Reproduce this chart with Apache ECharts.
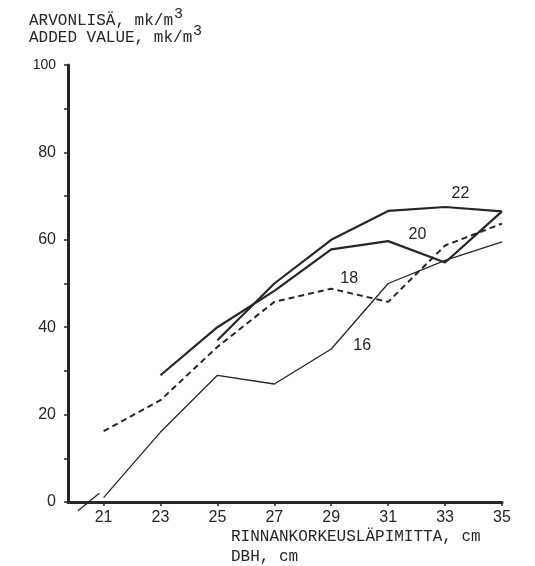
<!DOCTYPE html>
<html>
<head>
<meta charset="utf-8">
<script src="https://cdn.jsdelivr.net/npm/echarts@6/dist/echarts.min.js"></script>
<style>
  html, body { margin: 0; padding: 0; background: #fff; }
  #chart { width: 535px; height: 566px; }
</style>
</head>
<body>
<div id="chart"></div>
<script>
// Diameter classes (DBH, cm) on the horizontal axis
const dbh = [21, 23, 25, 27, 29, 31, 33, 35];

// Added value (mk/m3) by dominant height class
const value16 = [1, 16, 29, 27, 35, 50, 55.3, 59.5];
const value18 = [16.2, 23.3, 35.5, 45.8, 48.8, 45.8, 58.7, 63.7];
const value20 = [null, 29, 40, 48.3, 57.8, 59.7, 54.8, 66.5];
const value22 = [null, null, 37, 50, 60, 66.6, 67.5, 66.5];

// Short hand-drawn stroke extending class 16 below the axis
const lead16 = [[20.1, -2], [20.85, 2]];

// Axis ticks
const yTicks = [0, 20, 40, 60, 80, 100];
const xTicks = dbh;

const ink = '#262626';
const mono = '"Liberation Mono", "DejaVu Sans Mono", monospace';
const sans = '"Liberation Sans", Arial, sans-serif';

function pairs(xs, ys) {
  return xs.map((x, i) => [x, ys[i]]);
}

function curveLabel(text, coord) {
  return {
    silent: true,
    symbol: 'rect',
    symbolSize: 1,
    itemStyle: { color: 'transparent' },
    label: {
      show: true, position: 'inside', formatter: text,
      color: ink, fontFamily: sans, fontSize: 16
    },
    data: [{ coord: coord }]
  };
}

const chart = echarts.init(document.getElementById('chart'), null, { renderer: 'canvas' });

chart.setOption({
  backgroundColor: '#ffffff',
  animation: false,
  grid: { left: 68, right: 33, top: 65, bottom: 64, containLabel: false },
  xAxis: {
    type: 'value',
    min: 19.75,
    max: 35,
    splitLine: { show: false },
    axisLine: { show: true, onZero: false, lineStyle: { color: ink, width: 3 } },
    axisTick: { show: true, customValues: xTicks, length: 4, lineStyle: { color: ink, width: 1.5 } },
    axisLabel: {
      customValues: xTicks, margin: 8, color: ink,
      fontFamily: sans, fontSize: 16
    }
  },
  yAxis: {
    type: 'value',
    min: 0,
    max: 100,
    interval: 10,
    splitLine: { show: false },
    axisLine: { show: true, lineStyle: { color: ink, width: 3 } },
    axisTick: { show: true, length: 4, lineStyle: { color: ink, width: 1.5 } },
    axisLabel: {
      margin: 12, color: ink, fontFamily: sans, fontSize: 16,
      formatter: v => yTicks.includes(v) ? (v === 100 ? '{s|100}' : String(v)) : '',
      rich: { s: { fontFamily: sans, fontSize: 14, color: ink } }
    }
  },
  graphic: [
    { type: 'text', left: 29, top: 13, style: { text: 'ARVONLISÄ, mk/m', font: '16px ' + mono, fill: ink } },
    { type: 'text', left: 174, top: 7, style: { text: '3', font: '15px ' + mono, fill: ink } },
    { type: 'text', left: 29, top: 30, style: { text: 'ADDED VALUE, mk/m', font: '16px ' + mono, fill: ink } },
    { type: 'text', left: 193, top: 24, style: { text: '3', font: '15px ' + mono, fill: ink } },
    { type: 'text', left: 231, top: 529, style: { text: 'RINNANKORKEUSLÄPIMITTA, cm', font: '16px ' + mono, fill: ink } },
    { type: 'text', left: 231, top: 549, style: { text: 'DBH, cm', font: '16px ' + mono, fill: ink } }
  ],
  series: [
    {
      name: '16', type: 'line', data: pairs(dbh, value16),
      showSymbol: false, lineStyle: { color: ink, width: 1.3 },
      markPoint: curveLabel('16', [30.09, 35.8])
    },
    {
      name: '16 lead', type: 'line', data: lead16, clip: false,
      showSymbol: false, lineStyle: { color: ink, width: 1.3 }
    },
    {
      name: '18', type: 'line', data: pairs(dbh, value18),
      showSymbol: false, lineStyle: { color: ink, width: 2, type: [6, 4] },
      markPoint: curveLabel('18', [29.63, 51.2])
    },
    {
      name: '20', type: 'line', data: pairs(dbh, value20),
      showSymbol: false, connectNulls: false, lineStyle: { color: ink, width: 2.2 },
      markPoint: curveLabel('20', [32.03, 61.3])
    },
    {
      name: '22', type: 'line', data: pairs(dbh, value22),
      showSymbol: false, connectNulls: false, lineStyle: { color: ink, width: 2.2 },
      markPoint: curveLabel('22', [33.54, 70.5])
    }
  ]
});
</script>
</body>
</html>
